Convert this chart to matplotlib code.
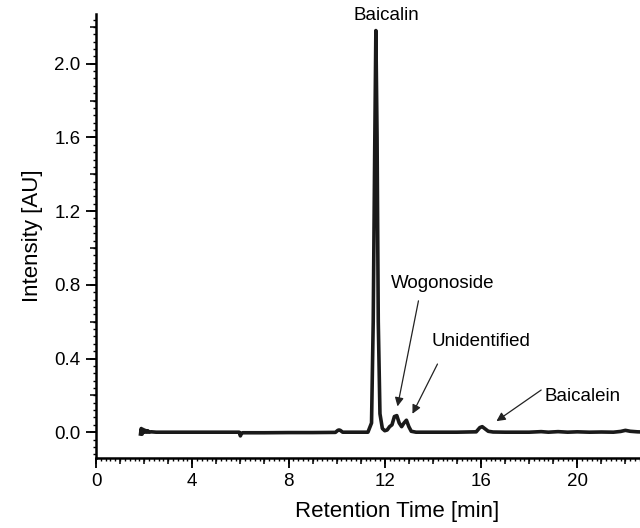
import matplotlib
matplotlib.use('Agg')
from matplotlib import pyplot as plt
from matplotlib.ticker import MultipleLocator, FixedLocator, NullFormatter

plt.rcParams['font.family'] = ['Liberation Sans', 'DejaVu Sans']

# chromatogram
time = [1.85, 1.88, 1.92, 1.96, 2.0, 2.05, 2.1, 2.15, 2.2, 2.3, 2.5, 3.0, 4.0, 5.0,
        5.95, 6.0, 6.05, 6.1, 7.0, 8.0, 9.0, 9.95, 10.05, 10.1, 10.15, 10.25, 10.5,
        11.0, 11.3, 11.45, 11.52, 11.58, 11.63, 11.68, 11.73, 11.8, 11.9, 12.0,
        12.1, 12.2, 12.3, 12.4, 12.5, 12.6, 12.7, 12.8, 12.9, 13.0, 13.1, 13.3,
        14.0, 15.0, 15.8, 15.95, 16.05, 16.15, 16.3, 16.5, 17.0, 18.0, 18.5, 18.8,
        19.2, 19.6, 20.0, 20.5, 21.0, 21.5, 21.8, 22.0, 22.2, 22.5, 23.0]
intensity = [-0.01, 0.02, -0.01, 0.015, 0.0, 0.01, 0.0, 0.008, 0.0, 0.002, 0.0, 0.0,
             0.0, 0.0, 0.0, -0.02, -0.005, -0.003, -0.003, -0.002, -0.002, -0.001,
             0.01, 0.012, 0.01, 0.0, 0.0, 0.0, 0.0, 0.05, 0.6, 1.5, 2.18, 1.6, 0.6,
             0.1, 0.02, 0.008, 0.012, 0.03, 0.04, 0.085, 0.09, 0.05, 0.03, 0.05,
             0.065, 0.03, 0.005, 0.0, 0.0, 0.0, 0.002, 0.025, 0.03, 0.02, 0.005,
             0.001, 0.0, 0.0, 0.003, 0.0, 0.003, 0.0, 0.002, 0.0, 0.001, 0.0, 0.004,
             0.01, 0.005, 0.002, 0.0]

x_ticks = [0, 4, 8, 12, 16, 20]

labels = ['Baicalin', 'Wogonoside', 'Unidentified', 'Baicalein']
label_xy = [(12.07, 2.26), (14.4, 0.805), (16.0, 0.49), (20.2, 0.196)]
arrow_tail = [None, (13.4, 0.713), (14.19, 0.37), (18.5, 0.229)]
arrow_head = [None, (12.53, 0.14), (13.15, 0.1), (16.64, 0.06)]

fig = plt.figure(figsize=(6.4, 5.28), dpi=100)
# axes runs past the right edge of the picture, like the cropped original
ax = fig.add_axes([0.15, 0.1326, 0.94, 0.8409])

ax.plot(time, intensity, color='#1a1a1a', lw=2.6, solid_joinstyle='round')

ax.set_xlim(0, 25)
ax.set_ylim(-0.14, 2.27)

for s in ['top', 'right']:
    ax.spines[s].set_visible(False)
for s in ['left', 'bottom']:
    ax.spines[s].set_linewidth(1.8)

ax.xaxis.set_major_locator(FixedLocator(x_ticks))
ax.xaxis.set_minor_locator(MultipleLocator(0.2))
ax.yaxis.set_major_locator(MultipleLocator(0.4))
ax.yaxis.set_minor_locator(MultipleLocator(0.04))
ax.yaxis.set_major_formatter(matplotlib.ticker.FormatStrFormatter('%.1f'))
ax.tick_params(which='major', length=7, width=1.3, labelsize=13.5, direction='out', pad=4)
ax.tick_params(which='minor', length=2.5, width=1.0, direction='out')

# medium ticks
secx = ax.secondary_xaxis('bottom')
secx.xaxis.set_major_locator(FixedLocator(range(0, 26)))
secx.xaxis.set_major_formatter(NullFormatter())
secx.tick_params(length=4.5, width=1.1)
secx.spines['bottom'].set_visible(False)
secy = ax.secondary_yaxis('left')
secy.yaxis.set_major_locator(MultipleLocator(0.2))
secy.yaxis.set_major_formatter(NullFormatter())
secy.tick_params(length=4.5, width=1.1)
secy.spines['left'].set_visible(False)

ax.set_xlabel('Retention Time [min]', fontsize=16, labelpad=8)
ax.set_ylabel('Intensity [AU]', fontsize=16, labelpad=8)

for name, (tx, ty), tail, head in zip(labels, label_xy, arrow_tail, arrow_head):
    ax.text(tx, ty, name, ha='center', va='center', fontsize=13.5, clip_on=False)
    if head is not None:
        ax.annotate('', xy=head, xytext=tail,
                    arrowprops=dict(arrowstyle='-|>', color='#222222', lw=0.9,
                                    mutation_scale=13, shrinkA=0, shrinkB=0))

fig.savefig('out.png', dpi=100)
